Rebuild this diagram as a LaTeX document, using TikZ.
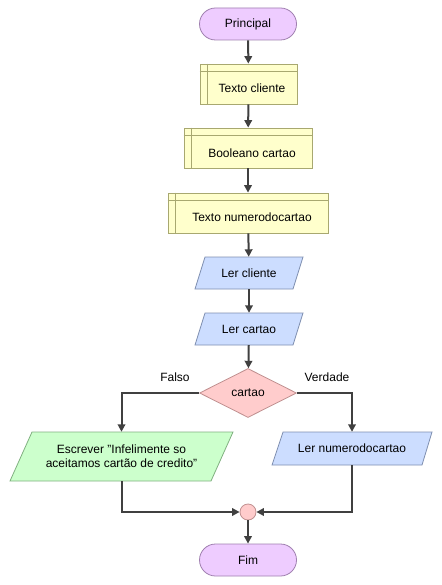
\documentclass[tikz,border=0pt]{standalone}
\usepackage{fontspec}
\setmainfont{Liberation Sans}
\usetikzlibrary{shapes.geometric,arrows.meta}
\definecolor{termfill}{HTML}{EECCFF}
\definecolor{termdraw}{HTML}{9F7FAF}
\definecolor{declfill}{HTML}{FFFFCC}
\definecolor{decldraw}{HTML}{A8A870}
\definecolor{infill}{HTML}{CCDDFF}
\definecolor{indraw}{HTML}{7F8FB0}
\definecolor{decfill}{HTML}{FFCCCC}
\definecolor{decdraw}{HTML}{C09090}
\definecolor{outfill}{HTML}{CCFFCC}
\definecolor{outdraw}{HTML}{80B080}
\definecolor{linec}{HTML}{404040}
\begin{document}
\begin{tikzpicture}[x=1pt,y=-1pt,
  every node/.style={font=\fontsize{12}{14}\selectfont, inner sep=0pt},
  term/.style={draw=termdraw, fill=termfill, rounded corners=16pt, minimum width=97pt, minimum height=32pt, line width=0.8pt},
  decl/.style={draw=decldraw, fill=declfill, minimum height=40pt, line width=0.8pt},
  inpoly/.style={draw=indraw, fill=infill, line width=0.8pt},
  outpoly/.style={draw=outdraw, fill=outfill, line width=0.8pt},
  anchorbox/.style={draw=none, fill=none},
  conn/.style={draw=linec, line width=2pt, -{Triangle[length=7.5pt,width=7.5pt]}},
  plain/.style={draw=linec, line width=2pt}]
\useasboundingbox (0,0) rectangle (441,585);
% terminal
\node[term] (p) at (248,24) {Principal};
% declarations
\node[decl, minimum width=97pt] (t1) at (248.5,84) {};
\draw[decldraw, line width=0.8pt] ([xshift=8pt]t1.north west) -- ([xshift=8pt]t1.south west);
\draw[decldraw, line width=0.8pt] ([yshift=-8pt]t1.north west) -- ([yshift=-8pt]t1.north east);
\node (t1l) at (252,88) {Texto cliente};
\node[decl, minimum width=128pt] (t2) at (248,148) {};
\draw[decldraw, line width=0.8pt] ([xshift=8pt]t2.north west) -- ([xshift=8pt]t2.south west);
\draw[decldraw, line width=0.8pt] ([yshift=-8pt]t2.north west) -- ([yshift=-8pt]t2.north east);
\node (t2l) at (252,153) {Booleano cartao};
\node[decl, minimum width=160pt] (t3) at (248,213) {};
\draw[decldraw, line width=0.8pt] ([xshift=8pt]t3.north west) -- ([xshift=8pt]t3.south west);
\draw[decldraw, line width=0.8pt] ([yshift=-8pt]t3.north west) -- ([yshift=-8pt]t3.north east);
\node (t3l) at (252,217) {Texto numerodocartao};
% inputs
\path[inpoly] (205,257) -- (303,257) -- (293,289) -- (195,289) -- cycle;
\node[anchorbox, minimum width=98pt, minimum height=32pt] (r1) at (249,273) {Ler cliente};
\path[inpoly] (205,313) -- (303,313) -- (293,345) -- (195,345) -- cycle;
\node[anchorbox, minimum width=98pt, minimum height=32pt] (r2) at (249,329) {Ler cartao};
% decision
\node[diamond, draw=decdraw, fill=decfill, line width=0.8pt, minimum width=97pt, minimum height=49pt, aspect=2] (d) at (248,393) {cartao};
% outputs
\path[outpoly] (32,432) -- (233,432) -- (211,481) -- (10,481) -- cycle;
\node[anchorbox, minimum width=201pt, minimum height=49pt, align=center] (g) at (121.5,456.5) {Escrever \symbol{34}Infelimente so\\aceitamos cartão de credito\symbol{34}};
\path[inpoly] (283,432) -- (432,432) -- (422,465) -- (272,465) -- cycle;
\node[anchorbox, minimum width=150pt, minimum height=33pt] (rn) at (352,448.5) {Ler numerodocartao};
% merge
\node[circle, draw=decdraw, fill=decfill, line width=0.8pt, minimum size=16pt] (c) at (248,512) {};
\node[term] (f) at (248,560) {Fim};
% connectors
\draw[conn] (p) -- (t1);
\draw[conn] (t1) -- (t2);
\draw[conn] (t2) -- (t3);
\draw[conn] (t3) -- (r1);
\draw[conn] (r1) -- (r2);
\draw[conn] (r2) -- (d);
\draw[conn] (d.west) -| (g.north);
\draw[conn] (d.east) -| (rn.north);
\draw[conn] (g.south) |- (c.west);
\draw[conn] (rn.south) |- (c.east);
\draw[conn] (c) -- (f);
\node (fl) at (175,377) {Falso};
\node (vl) at (327,377) {Verdade};
\end{tikzpicture}
\end{document}
